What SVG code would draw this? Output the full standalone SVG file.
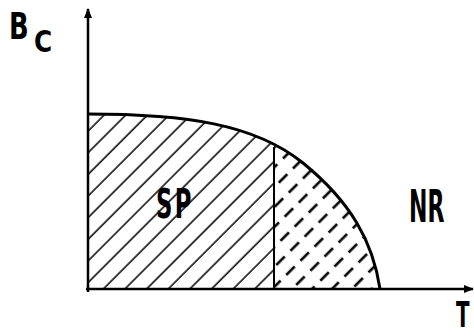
<svg xmlns="http://www.w3.org/2000/svg" width="474" height="336" viewBox="0 0 474 336">
<style>
.lbl{font-family:"DejaVu Sans","Liberation Sans",sans-serif;font-weight:bold;fill:#000}
.ax{stroke:#000;stroke-width:2.5;fill:none}
</style>
<defs>
<clipPath id="region"><path d="M88,289 L88,114 C185,114 255,124 303,163 C351,202 373,242 380,289 Z"/></clipPath>
<pattern id="hatchA" patternUnits="userSpaceOnUse" width="15.3" height="15.3" patternTransform="rotate(45)">
<line x1="2" y1="0" x2="2" y2="15.3" stroke="#000" stroke-width="1.5"/>
</pattern>
<pattern id="hatchB" patternUnits="userSpaceOnUse" width="14.1" height="20" patternTransform="rotate(45)">
<line x1="2" y1="0" x2="2" y2="12" stroke="#000" stroke-width="2.6"/>
</pattern>
<marker id="arr" viewBox="0 0 10 10" refX="9" refY="5" markerWidth="4" markerHeight="4" orient="auto" markerUnits="strokeWidth">
<path d="M0,1 L10,5 L0,9 Z" fill="#000"/>
</marker>
</defs>
<g id="hatching" clip-path="url(#region)">
<rect x="88" y="100" width="186" height="190" fill="url(#hatchA)"/>
<rect x="274" y="100" width="110" height="190" fill="url(#hatchB)"/>
</g>
<g id="connectors">
<line class="ax" x1="88" y1="292" x2="88" y2="9" marker-end="url(#arr)"/>
<line class="ax" x1="86" y1="289" x2="473" y2="289" marker-end="url(#arr)"/>
</g>
<g id="curve">
<path d="M88,114 C185,114 255,124 303,163 C351,202 373,242 380,289" fill="none" stroke="#000" stroke-width="3"/>
<line x1="274" y1="147" x2="274" y2="289" stroke="#000" stroke-width="2"/>
</g>
<g id="labels">
<text class="lbl" font-size="38" transform="translate(9,39) scale(0.68,1)">B</text>
<text class="lbl" font-size="31" transform="translate(34,52) scale(0.8,1)">C</text>
<text class="lbl" font-size="40" letter-spacing="4" transform="translate(156,218) scale(0.57,1)">SP</text>
<text class="lbl" font-size="44" transform="translate(409,222) scale(0.5,1)">NR</text>
<text class="lbl" font-size="36" transform="translate(456,327) scale(0.55,1)">T</text>
</g>
</svg>
